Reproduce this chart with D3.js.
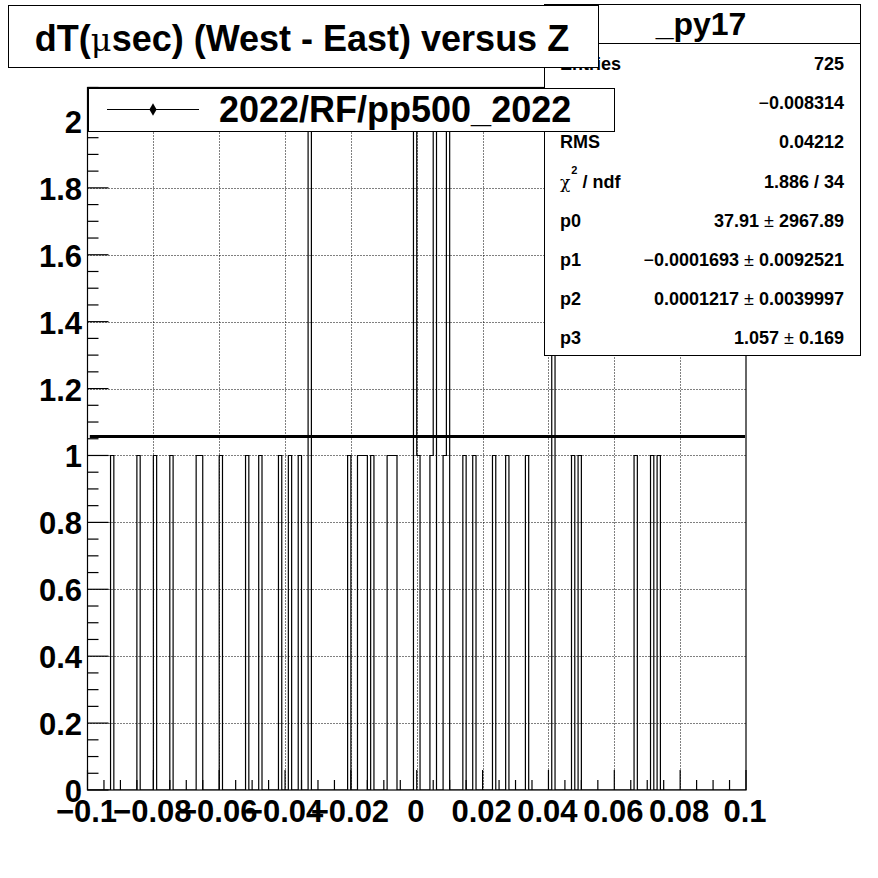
<!DOCTYPE html>
<html><head><meta charset="utf-8">
<script src="https://cdn.jsdelivr.net/npm/d3@7"></script>
<style>
html,body{margin:0;padding:0;background:#fff;}
svg{display:block;font-family:"Liberation Sans",Arial,sans-serif;}
</style></head>
<body>
<script>
// ---- data ----
const xDomain = [-0.1, 0.1];
const yDomain = [0, 2.1];
const binWidth = 0.001;
// low edges of the non-empty bins and their contents
const binLow = [-0.093,-0.085,-0.080,-0.075,-0.067,-0.066,-0.060,-0.052,-0.048,-0.042,-0.039,-0.036,-0.033,
  -0.021,-0.018,-0.017,-0.016,-0.014,-0.009,-0.008,-0.007,-0.001,0.000,0.004,0.005,0.008,0.009,
  0.014,0.017,0.023,0.027,0.033,0.041,0.047,0.049,0.066,0.071,0.073];
const binCount = [1,1,1,1,1,1,1,1,1,1,1,1,6,
  1,1,1,1,1,1,1,1,250,1,1,180,1,200,
  1,1,1,1,1,30,1,1,1,1,1];
const fitConst = 1.057;
const xTickValues = [-0.1,-0.08,-0.06,-0.04,-0.02,0,0.02,0.04,0.06,0.08,0.1];
const xTickLabels = ["\u22120.1","\u22120.08","\u22120.06","\u22120.04","\u22120.02","0","0.02","0.04","0.06","0.08","0.1"];
const yTickValues = [0,0.2,0.4,0.6,0.8,1,1.2,1.4,1.6,1.8,2];
const yTickLabels = ["0","0.2","0.4","0.6","0.8","1","1.2","1.4","1.6","1.8","2"];
const titleText = ["dT(", "\u03bc", "sec) (West - East) versus Z"];
const legendText = "2022/RF/pp500_2022";
const statsTitle = "_py17";
const statsLabels = ["Entries","Mean","RMS","chi","p0","p1","p2","p3"];
const statsValues = ["725","\u22120.008314","0.04212","1.886 / 34","37.91 \u00b1 2967.89","\u22120.0001693 \u00b1 0.0092521","0.0001217 \u00b1 0.0039997","1.057 \u00b1 0.169"];

// ---- layout ----
const W = 878, H = 878;
const fx0 = 87.5, fx1 = 746, fy0 = 87.5, fy1 = 790;
const x = d3.scaleLinear().domain(xDomain).range([fx0, fx1]);
const y = d3.scaleLinear().domain(yDomain).range([fy1, fy0]);

const svg = d3.select("body").append("svg").attr("width", W).attr("height", H);

svg.append("defs").append("clipPath").attr("id","frameClip")
  .append("rect").attr("x", fx0).attr("y", fy0).attr("width", fx1 - fx0).attr("height", fy1 - fy0);

// grid
const grid = svg.append("g").attr("stroke","#000").attr("stroke-width",1).attr("stroke-dasharray","1,2");
xTickValues.slice(1, -1).forEach(v => {
  grid.append("line").attr("x1", Math.round(x(v))+0.5).attr("x2", Math.round(x(v))+0.5).attr("y1", fy0).attr("y2", fy1);
});
yTickValues.slice(1).forEach(v => {
  grid.append("line").attr("y1", Math.round(y(v))+0.5).attr("y2", Math.round(y(v))+0.5).attr("x1", fx0).attr("x2", fx1);
});

// histogram outline
const nBins = Math.round((xDomain[1]-xDomain[0]) / binWidth);
const contents = new Array(nBins).fill(0);
binLow.forEach((lo, i) => { contents[Math.round((lo - xDomain[0]) / binWidth)] = binCount[i]; });
const pts = [[xDomain[0], 0]];
contents.forEach((c, i) => {
  const lo = xDomain[0] + i * binWidth, hi = lo + binWidth;
  pts.push([lo, c], [hi, c]);
});
pts.push([xDomain[1], 0]);
svg.append("path")
  .attr("clip-path","url(#frameClip)")
  .attr("d", d3.line().x(d => x(d[0])).y(d => y(Math.min(d[1], 3)))(pts))
  .attr("fill","none").attr("stroke","#000").attr("stroke-width",1.2);

// fit line
svg.append("line").attr("x1", x(-0.0993)).attr("x2", x(0.0997))
  .attr("y1", y(fitConst)).attr("y2", y(fitConst))
  .attr("stroke","#000").attr("stroke-width",3);

// frame
svg.append("rect").attr("x", fx0).attr("y", fy0).attr("width", fx1 - fx0).attr("height", fy1 - fy0)
  .attr("fill","none").attr("stroke","#000").attr("stroke-width",1.2);

// x ticks
const xt = svg.append("g").attr("stroke","#000").attr("stroke-width",1.2);
d3.range(0, 41).forEach(k => {
  const v = xDomain[0] + k * 0.005;
  const major = (k % 4 === 0);
  xt.append("line").attr("x1", x(v)).attr("x2", x(v)).attr("y1", fy1).attr("y2", fy1 - (major ? 20 : 10));
});
// y ticks
const yt = svg.append("g").attr("stroke","#000").attr("stroke-width",1.2);
d3.range(0, 43).forEach(k => {
  const v = k * 0.05;
  const major = (k % 4 === 0);
  yt.append("line").attr("y1", y(v)).attr("y2", y(v)).attr("x1", fx0).attr("x2", fx0 + (major ? 21 : 11));
});

// tick labels
svg.append("g").selectAll("text").data(xTickValues).join("text")
  .attr("x", d => x(d) - 1).attr("y", 822).attr("text-anchor","middle")
  .attr("font-size", 31).attr("font-weight","bold")
  .text((d, i) => xTickLabels[i]);
svg.append("g").selectAll("text").data(yTickValues).join("text")
  .attr("x", 82).attr("y", d => y(d) + 12).attr("text-anchor","end")
  .attr("font-size", 31).attr("font-weight","bold")
  .text((d, i) => yTickLabels[i]);

// stats box
const sb = svg.append("g");
sb.append("rect").attr("x", 544.5).attr("y", 4.5).attr("width", 316).attr("height", 351)
  .attr("fill","#fff").attr("stroke","#000").attr("stroke-width",1);
sb.append("line").attr("x1", 544.5).attr("x2", 860.5).attr("y1", 43.5).attr("y2", 43.5).attr("stroke","#000");
sb.append("text").attr("x", 701).attr("y", 35).attr("text-anchor","middle")
  .attr("font-size", 32).attr("font-weight","bold").text(statsTitle);
const rowY = [70, 109, 148, 188, 227, 266, 305, 344];
statsLabels.forEach((lab, i) => {
  const t = sb.append("text").attr("x", 560).attr("y", rowY[i]).attr("font-size", 18).attr("font-weight","bold");
  if (lab === "chi") {
    t.append("tspan").attr("font-weight","normal").attr("font-family","DejaVu Serif, serif").attr("font-size",17).text("\u03c7");
    t.append("tspan").attr("font-size",11).attr("dy",-14).attr("dx",1).text("2");
    t.append("tspan").attr("dy",14).text(" / ndf");
  } else t.text(lab);
});
statsValues.forEach((val, i) => {
  const t = sb.append("text").attr("x", 844).attr("y", rowY[i]).attr("text-anchor","end")
    .attr("font-size", 18).attr("font-weight","bold");
  val.split(/([\u2212\u00b1])/).forEach(part => {
    if (part === "") return;
    const s = t.append("tspan").text(part);
    if (part === "\u2212" || part === "\u00b1") s.attr("font-weight","normal");
  });
});

// title box
const tb = svg.append("g");
tb.append("rect").attr("x", 8.5).attr("y", 5.5).attr("width", 590).attr("height", 62)
  .attr("fill","#fff").attr("stroke","#000");
const tt = tb.append("text").attr("x", 302).attr("y", 51).attr("text-anchor","middle")
  .attr("font-size", 36).attr("font-weight","bold");
tt.append("tspan").text(titleText[0]);
tt.append("tspan").attr("font-weight","normal").attr("font-family","DejaVu Serif, serif").attr("font-size",32).text(titleText[1]);
tt.append("tspan").text(titleText[2]);

// legend box
const lg = svg.append("g");
lg.append("rect").attr("x", 88.5).attr("y", 88.5).attr("width", 526).attr("height", 43)
  .attr("fill","#fff").attr("stroke","#000");
lg.append("line").attr("x1", 107).attr("x2", 199).attr("y1", 109.5).attr("y2", 109.5).attr("stroke","#000");
lg.append("path").attr("d", d3.symbol(d3.symbolDiamond, 45)()).attr("transform","translate(153,109.5)").attr("fill","#000");
lg.append("text").attr("x", 219).attr("y", 122).attr("font-size", 36).attr("font-weight","bold").text(legendText);
</script>
</body></html>
